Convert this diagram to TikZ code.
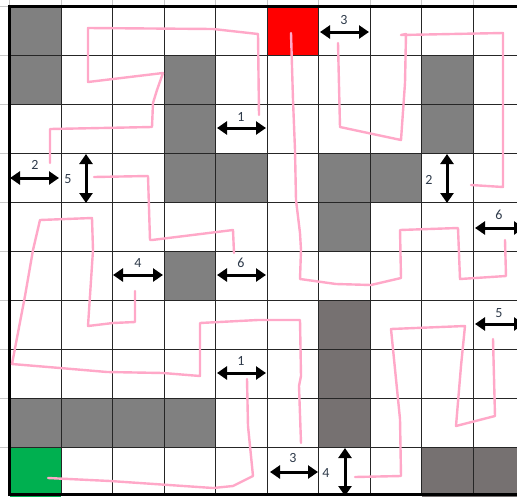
\documentclass[tikz,border=0pt]{standalone}
\usepackage{fontspec}
\setmainfont{Carlito}
\usetikzlibrary{arrows.meta}
\definecolor{cellgray}{HTML}{808080}
\definecolor{darkcell}{HTML}{767171}
\definecolor{startred}{HTML}{FF0000}
\definecolor{goalgreen}{HTML}{00B050}
\definecolor{pathpink}{RGB}{255,168,200}
\definecolor{tickgray}{HTML}{C8C8C8}
\definecolor{labelcol}{HTML}{2E3A4A}
\newcommand\mazecell[3]{\fill[#3] ({9.5+51.5*#1},{6.5+49*#2}) rectangle ++(51.5,49);}
\tikzset{
  pinkpath/.style={draw=pathpink, line width=2.4pt, line join=round, line cap=round},
  dblarrow/.style={line width=3pt, {Triangle[length=10pt,width=13pt]}-{Triangle[length=10pt,width=13pt]}},
  numlabel/.style={font=\fontsize{14}{16}\selectfont, text=labelcol, inner sep=0pt},
  gridline/.style={draw=black!85, line width=0.9pt},
  borderline/.style={draw=black, line width=3pt},
  tickline/.style={draw=tickgray, line width=0.8pt}
}
\begin{document}
\begin{tikzpicture}[x=1pt,y=-1pt]
\useasboundingbox (0,0) rectangle (517,496);
\clip (0,0) rectangle (517,496);
\fill[white] (0,0) rectangle (517,496);
% coloured cells
\mazecell{0}{0}{cellgray}
\mazecell{5}{0}{startred}
\mazecell{0}{1}{cellgray}
\mazecell{3}{1}{cellgray}
\mazecell{8}{1}{cellgray}
\mazecell{3}{2}{cellgray}
\mazecell{8}{2}{cellgray}
\mazecell{3}{3}{cellgray}
\mazecell{4}{3}{cellgray}
\mazecell{6}{3}{cellgray}
\mazecell{7}{3}{cellgray}
\mazecell{6}{4}{cellgray}
\mazecell{3}{5}{cellgray}
\mazecell{6}{6}{darkcell}
\mazecell{6}{7}{darkcell}
\mazecell{6}{8}{darkcell}
\mazecell{0}{8}{cellgray}
\mazecell{1}{8}{cellgray}
\mazecell{2}{8}{cellgray}
\mazecell{3}{8}{cellgray}
\mazecell{0}{9}{goalgreen}
\mazecell{8}{9}{darkcell}
\mazecell{9}{9}{darkcell}
% margin ticks
\foreach \i in {0,...,9} \draw[tickline] ({9.5+51.5*\i},0) -- ({9.5+51.5*\i},6.5);
\foreach \j in {0,...,9} \draw[tickline] (0,{6.5+49*\j}) -- (9.5,{6.5+49*\j});
% grid
\foreach \i in {1,...,9} \draw[gridline] ({9.5+51.5*\i},6.5) -- ({9.5+51.5*\i},494.5);
\foreach \j in {1,...,9} \draw[gridline] (9.5,{6.5+49*\j}) -- (517,{6.5+49*\j});
% borders
\draw[borderline] (9.5,496) -- (9.5,6.5) -- (517,6.5);
\draw[borderline] (8,494.5) -- (517,494.5);
% pink paths
\draw[pinkpath] (50,163) -- (50,129) -- (152,127) -- (153,103) -- (157,90) -- (163,73) -- (88,82) -- (88,28) -- (213,29) -- (258,34) -- (259,115);
\draw[pinkpath] (291,33) -- (293,100) -- (295,150) -- (296,200) -- (300,233) -- (301,250) -- (300,279) -- (336,284) -- (371,285) -- (401,278) -- (400,230) -- (458,228) -- (460,279) -- (506,276) -- (505,240);
\draw[pinkpath] (338,43) -- (340,127) -- (368,133) -- (401,140) -- (405,83) -- (406,34) -- (401,35) -- (503,33) -- (503,187) -- (471,185);
\draw[pinkpath] (94,177) -- (148,176) -- (150,240) -- (152,240) -- (233,230) -- (234,253);
\draw[pinkpath] (135,291) -- (135,322) -- (113,323) -- (88,326) -- (93,250) -- (92,218) -- (40,220) -- (33,250) -- (25,296) -- (12,364) -- (60,368) -- (107,372) -- (163,373) -- (200,376) -- (200,323) -- (258,320) -- (300,320) -- (301,376) -- (299,386) -- (301,443);
\draw[pinkpath] (247,379) -- (248,426) -- (253,476) -- (233,486) -- (213,488) -- (110,481) -- (48,478);
\draw[pinkpath] (355,477) -- (401,476) -- (400,419) -- (391,329) -- (465,326) -- (461,366) -- (456,426) -- (495,416) -- (493,339);
% double arrows
\draw[dblarrow] (320,32) -- (369,32);
\draw[dblarrow] (217,128) -- (266,128);
\draw[dblarrow] (10,178) -- (59,178);
\draw[dblarrow] (86,154) -- (86,203);
\draw[dblarrow] (447,154) -- (447,203);
\draw[dblarrow] (475,228) -- (524,228);
\draw[dblarrow] (113,275) -- (163,275);
\draw[dblarrow] (217,275) -- (266,275);
\draw[dblarrow] (475,324) -- (524,324);
\draw[dblarrow] (217,373) -- (266,373);
\draw[dblarrow] (270,472) -- (318,472);
\draw[dblarrow] (345,448) -- (345,496);
% labels
\node[numlabel] (l3a) at (344,20) {3};
\node[numlabel] (l1a) at (241,117) {1};
\node[numlabel] (l2a) at (35,165) {2};
\node[numlabel] (l5a) at (68,179) {5};
\node[numlabel] (l2b) at (429,180) {2};
\node[numlabel] (l6a) at (499,215) {6};
\node[numlabel] (l4a) at (138,263) {4};
\node[numlabel] (l6b) at (241,263) {6};
\node[numlabel] (l5b) at (499,313) {5};
\node[numlabel] (l1b) at (241,361) {1};
\node[numlabel] (l3b) at (293,458) {3};
\node[numlabel] (l4b) at (326,473) {4};
\end{tikzpicture}
\end{document}
